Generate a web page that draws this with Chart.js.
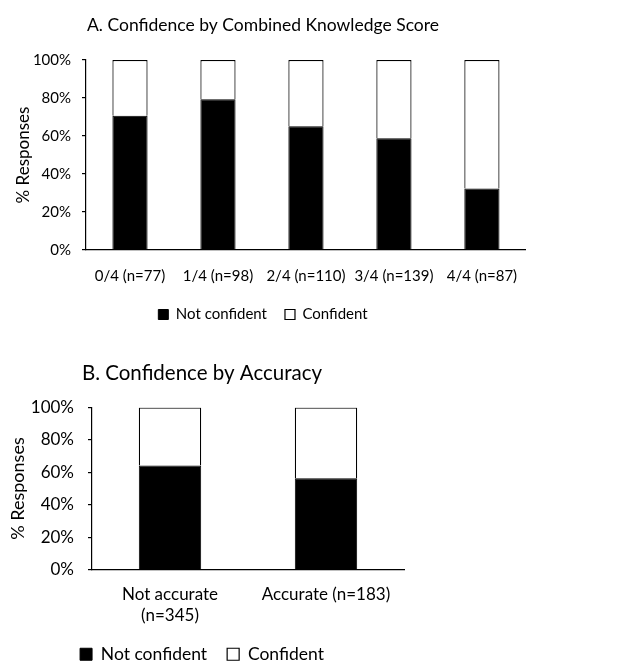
<!DOCTYPE html>
<html>
<head>
<meta charset="utf-8">
<script src="https://cdn.jsdelivr.net/npm/chart.js@4.4.1/dist/chart.umd.min.js"></script>
<style>
  html, body { margin: 0; padding: 0; background: #fff; overflow: hidden; }
  #wrapA { position: absolute; left: 0; top: 0; width: 535px; height: 336px; }
  #wrapB { position: absolute; left: 0; top: 330px; width: 410px; height: 343px; }
</style>
</head>
<body>
<div id="wrapA"><canvas id="chartA"></canvas></div>
<div id="wrapB"><canvas id="chartB"></canvas></div>
<script>
// Panel A: confidence by combined knowledge score
const scoreLabels = ['0/4 (n=77)', '1/4 (n=98)', '2/4 (n=110)', '3/4 (n=139)', '4/4 (n=87)'];
const scoreNotConfident = [70.6, 79.3, 65.1, 58.8, 32.4];
const scoreConfident = scoreNotConfident.map(v => 100 - v);

// Panel B: confidence by accuracy
const accuracyLabels = [['Not accurate', '(n=345)'], 'Accurate (n=183)'];
const accuracyNotConfident = [64.3, 56.4];
const accuracyConfident = accuracyNotConfident.map(v => 100 - v);

const seriesNames = ['Not confident', 'Confident'];
const yTicks = [0, 20, 40, 60, 80, 100];

const FONT = 'Lato, "Liberation Sans", sans-serif';

function makeChart(id, labels, notConf, conf, cfg) {
  return new Chart(document.getElementById(id), {
    type: 'bar',
    data: {
      labels: labels,
      datasets: [
        { label: seriesNames[0], data: notConf, backgroundColor: '#000', borderColor: '#000', borderWidth: 1 },
        { label: seriesNames[1], data: conf, backgroundColor: '#fff', borderColor: '#000', borderWidth: 1.2 }
      ]
    },
    options: {
      responsive: true,
      maintainAspectRatio: false,
      animation: false,
      layout: { padding: cfg.padding },
      datasets: { bar: { barPercentage: 0.4, categoryPercentage: 1 } },
      plugins: {
        title: {
          display: true,
          text: cfg.title,
          color: '#000',
          font: { family: FONT, size: cfg.titleSize, weight: 'normal' },
          padding: cfg.titlePad
        },
        legend: {
          position: 'bottom',
          labels: {
            color: '#000',
            font: { family: FONT, size: cfg.legendSize },
            boxWidth: cfg.box,
            boxHeight: cfg.box,
            padding: cfg.legendGap
          }
        },
        tooltip: { enabled: false }
      },
      scales: {
        x: {
          stacked: true,
          grid: { display: false, drawTicks: false },
          border: { display: true, color: '#000', width: 1.2 },
          ticks: { color: '#000', font: { family: FONT, size: cfg.fontSize }, padding: cfg.xPad, maxRotation: 0 },
          afterFit: s => { s.height = cfg.xHeight; }
        },
        y: {
          stacked: true,
          min: 0, max: 100,
          afterBuildTicks: s => { s.ticks = yTicks.map(v => ({ value: v })); },
          grid: { display: true, drawOnChartArea: false, drawTicks: true, tickLength: 4, color: '#000', lineWidth: 1.2 },
          border: { display: true, color: '#000', width: 1.2 },
          ticks: { color: '#000', font: { family: FONT, size: cfg.fontSize }, padding: cfg.yPad, callback: v => v + '%' },
          title: { display: true, text: '% Responses', color: '#000', font: { family: FONT, size: cfg.yTitleSize }, padding: { top: cfg.yTitlePad, bottom: 0 } },
          afterFit: s => { s.width = cfg.yWidth; }
        }
      }
    }
  });
}

makeChart('chartA', scoreLabels, scoreNotConfident, scoreConfident, {
  title: 'A. Confidence by Combined Knowledge Score',
  titleSize: 17.5, titlePad: { top: 15, bottom: 24 },
  fontSize: 15, legendSize: 15, box: 10, legendGap: 18,
  padding: { left: 0, right: 9, top: 0, bottom: 4 },
  xPad: 17, xHeight: 39, yPad: 11, yWidth: 86, yTitleSize: 17, yTitlePad: 13
});

makeChart('chartB', accuracyLabels, accuracyNotConfident, accuracyConfident, {
  title: 'B. Confidence by Accuracy',
  titleSize: 20.5, titlePad: { top: 31, bottom: 22 },
  fontSize: 17, legendSize: 17.5, box: 12, legendGap: 20,
  padding: { left: 0, right: 6, top: 0, bottom: 0 },
  xPad: 15, xHeight: 56, yPad: 14, yWidth: 92, yTitleSize: 18, yTitlePad: 7
});
</script>
</body>
</html>
